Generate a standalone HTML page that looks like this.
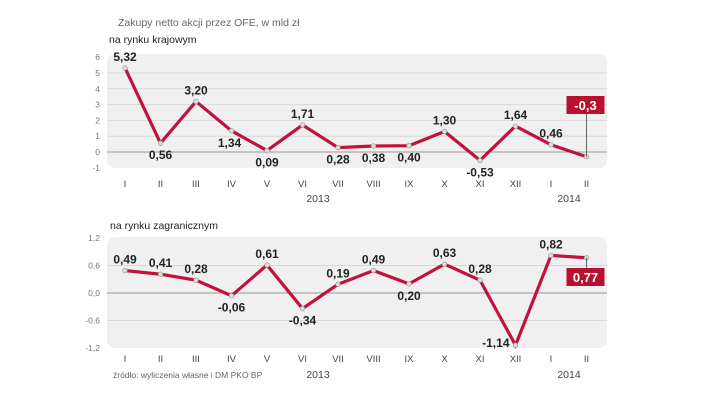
<!DOCTYPE html>
<html><head><meta charset="utf-8"><style>
body{margin:0;background:#fff;width:720px;height:405px;overflow:hidden;font-family:"Liberation Sans",sans-serif}
svg text{font-family:"Liberation Sans",sans-serif}
</style></head><body>
<svg id="c" width="720" height="405">
<text x="118" y="26" font-size="10.5" fill="#666">Zakupy netto akcji przez OFE, w mld zł</text>
<text x="109" y="43" font-size="10.5" fill="#222">na rynku krajowym</text>
<text x="110" y="229" font-size="10.5" fill="#222">na rynku zagranicznym</text>
<text x="113" y="378" font-size="8.5" fill="#666">źródło: wyliczenia własne i DM PKO BP</text>
</svg>
<script>
const months=["I","II","III","IV","V","VI","VII","VIII","IX","X","XI","XII","I","II"];
const domestic=[5.32,0.56,3.20,1.34,0.09,1.71,0.28,0.38,0.40,1.30,-0.53,1.64,0.46,-0.3];
const domesticLabels=["5,32","0,56","3,20","1,34","0,09","1,71","0,28","0,38","0,40","1,30","-0,53","1,64","0,46","-0,3"];
const domesticPos=["a","b","a","bl","b","a","b","b","b","a","b","a","a","box"];
const foreign=[0.49,0.41,0.28,-0.06,0.61,-0.34,0.19,0.49,0.20,0.63,0.28,-1.14,0.82,0.77];
const foreignLabels=["0,49","0,41","0,28","-0,06","0,61","-0,34","0,19","0,49","0,20","0,63","0,28","-1,14","0,82","0,77"];
const foreignPos=["a","a","a","b","a","b","a","a","b","a","a","l","a","box"];
const domTicks=[6,5,4,3,2,1,0,-1];
const forTicks=[1.2,0.6,0.0,-0.6,-1.2];
const forTickLabels=["1,2","0,6","0,0","-0,6","-1,2"];
const NS="http://www.w3.org/2000/svg",svg=document.getElementById('c');
function el(t,a,txt){const e=document.createElementNS(NS,t);for(const k in a)e.setAttribute(k,a[k]);if(txt!==undefined)e.textContent=txt;svg.appendChild(e);return e;}
const xs=i=>125+i*35.5;
function panel(p,vals,labels,pos,ticks,tickLbl,name){
  const y=v=>p.y0-v*p.k;
  const bg=el('rect',{x:107,y:p.top,width:500,height:p.bot-p.top,rx:8,fill:'#f0f0f0'});
  
  ticks.forEach((t,i)=>{
    const yy=y(t);
    if(t!==ticks[ticks.length-1]&&t!==ticks[0]){const g=el('line',{x1:107,x2:607,y1:yy,y2:yy,stroke:t===0?'#999':'#d8d8d8','stroke-width':1});
    }
    const tl=el('text',{x:100,y:yy+3,'font-size':8.5,fill:'#777','text-anchor':'end'},tickLbl[i]);
    
  });
  const d=vals.map((v,i)=>(i?'L':'M')+xs(i)+','+y(v)).join(' ');
  const ln=el('path',{d:d,fill:'none',stroke:'#c0123c','stroke-width':3.2,'stroke-linejoin':'miter'});
  
  vals.forEach((v,i)=>{
    const c=el('circle',{cx:xs(i),cy:y(v),r:2.3,fill:'#ddd',stroke:'#999','stroke-width':0.7});
    
    const x=xs(i),yy=y(v);let lbl;
    if(pos[i]==='box'){
      const bx=x-20,by=p.boxY;
      const cl=el('line',{x1:x,x2:x,y1:by+17,y2:yy,stroke:'#666','stroke-width':1});
      
      const r=el('rect',{x:bx,y:by,width:38,height:18,fill:'#b8112f'});
      
      lbl=el('text',{x:bx+19,y:by+14,'font-size':13,'font-weight':'bold',fill:'#fff','text-anchor':'middle'},labels[i]);
    }else{
      let lx=x,ly=pos[i]==='a'?yy-7:yy+16,anc='middle';
      if(pos[i]==='bl'){lx=x-2;ly=yy+16;}
      if(pos[i]==='l'){lx=x-6;ly=yy+2;anc='end';}
      lbl=el('text',{x:lx,y:ly,'font-size':12,'font-weight':'bold',fill:'#222','text-anchor':anc},labels[i]);
    }
    
    const m=el('text',{x:x,y:p.mY,'font-size':9.5,fill:'#444','text-anchor':'middle'},months[i]);
    
  });
  const y1=el('text',{x:318,y:p.yearY,'font-size':10.5,fill:'#444','text-anchor':'middle'},'2013');
  
  const y2=el('text',{x:569,y:p.yearY,'font-size':10.5,fill:'#444','text-anchor':'middle'},'2014');
  
}
panel({y0:152,k:15.8,top:54,bot:168,mY:187,yearY:202,boxY:96},domestic,domesticLabels,domesticPos,domTicks,domTicks.map(String),'domestic');
panel({y0:293,k:45.8,top:237,bot:348,mY:362,yearY:378,boxY:268},foreign,foreignLabels,foreignPos,forTicks,forTickLabels,'foreign');
</script>
</body></html>
